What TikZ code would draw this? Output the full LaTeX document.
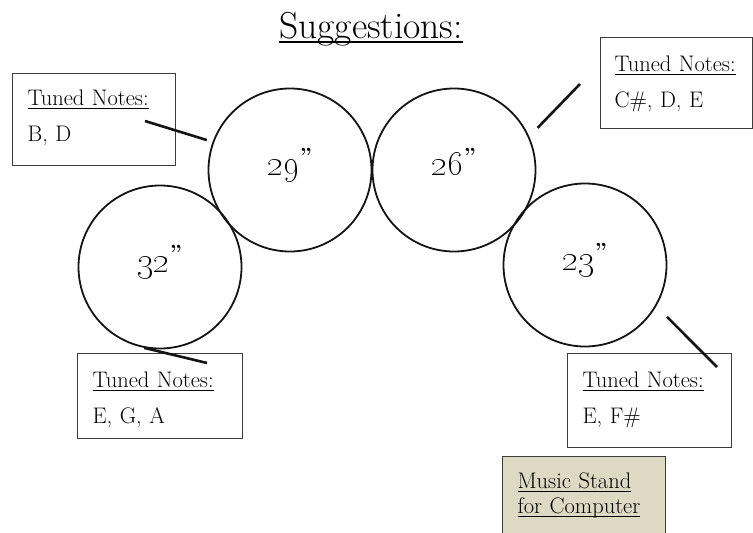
\documentclass[tikz,border=0pt]{standalone}
\usetikzlibrary{positioning}
\definecolor{standtan}{RGB}{221,217,195}
\definecolor{lineblack}{RGB}{20,20,20}
\definecolor{boxgray}{RGB}{60,60,60}

% word-style underline that cuts through descenders
\newsavebox\ulbox
\newcommand{\uln}[1]{\leavevmode\sbox\ulbox{#1}\rlap{\rule[-0.14em]{\wd\ulbox}{0.05em}}\usebox\ulbox}
\newcommand{\drumsize}[1]{\oldstylenums{#1}\raisebox{12pt}{\fontsize{22}{22}\selectfont\bfseries''}}

\begin{document}
\begin{tikzpicture}[
  x=1pt, y=-1pt,
  drum/.style={circle, draw=lineblack, line width=1.8pt, minimum size=163pt, inner sep=0pt, text height=16pt, text depth=6pt, font=\fontsize{36}{38}\selectfont},
  notes/.style={draw=boxgray, line width=1.1pt, anchor=north west, align=left, inner xsep=15pt, inner ysep=0pt, font=\fontsize{22.5}{35.5}\selectfont},
  tie/.style={draw=lineblack, line width=2.6pt}
]
\useasboundingbox (0,0) rectangle (753,533);

\node[anchor=base, font=\fontsize{37.5}{42}\selectfont] (title) at (371,38) {\uln{Suggestions:}};

% note boxes
\node[notes, text width=133pt, text height=32pt, text depth=60pt] (tlnotes) at (12,73) {\uln{Tuned Notes:}\\B, D};
\node[notes, inner xsep=14pt, text width=124pt, text height=34pt, text depth=57pt] (trnotes) at (600,37) {\uln{Tuned Notes:}\\C\#, D, E};
\node[notes, text width=135pt, text height=34pt, text depth=51pt] (blnotes) at (77,353) {\uln{Tuned Notes:}\\E, G, A};
\node[notes, text width=134pt, text height=34pt, text depth=60pt] (brnotes) at (567,353) {\uln{Tuned Notes:}\\E, F\#};
\node[notes, fill=standtan, text width=133pt, text height=32pt, text depth=90pt, font=\fontsize{22.5}{25}\selectfont] (stand) at (502,456) {\uln{Music Stand}\\\uln{for Computer}};

% drums
\node[drum] (c32) at (160,267) {\drumsize{32}};
\node[drum] (c29) at (290,170) {\drumsize{29}};
\node[drum] (c26) at (454,170) {\drumsize{26}};
\node[drum] (c23) at (585,265) {\drumsize{23}};

% ties from drums to their notes
\coordinate (tltip) at (145,121);
\coordinate (trtip) at (580,84);
\coordinate (bltip) at (207,363);
\coordinate (brtip) at (717,367);
\draw[tie, shorten <=6pt] (c29.160) -- (tltip);
\draw[tie, shorten <=12pt] (c26.24) -- (trtip);
\draw[tie] (c32.-101) -- (bltip);
\draw[tie, shorten <=15pt] (c23.-30) -- (brtip);
\end{tikzpicture}
\end{document}
